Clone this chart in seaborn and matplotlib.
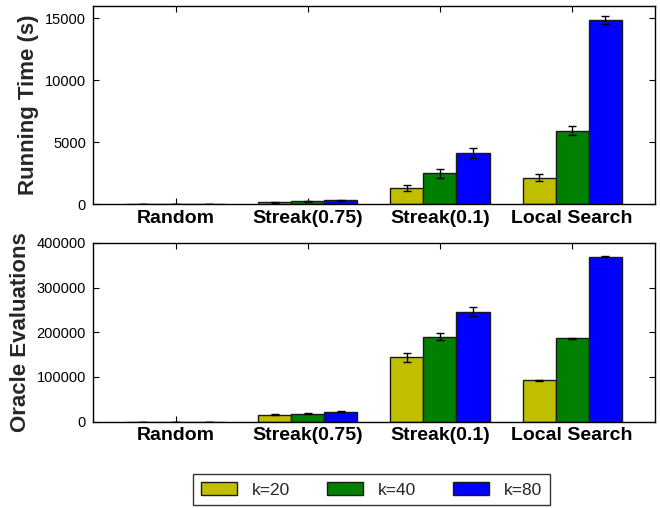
import numpy as np
import pandas as pd
import matplotlib
matplotlib.use("Agg")
import matplotlib.pyplot as plt
import seaborn as sns

algorithms = ["Random", "Streak(0.75)", "Streak(0.1)", "Local Search"]
k_labels = ["k=20", "k=40", "k=80"]

time_k20 = [2, 140, 1290, 2120]
time_k40 = [4, 240, 2500, 5950]
time_k80 = [8, 320, 4110, 14850]
time_err_k20 = [1, 20, 250, 280]
time_err_k40 = [1, 30, 350, 400]
time_err_k80 = [1, 30, 400, 320]

oracle_k20 = [20, 15000, 144000, 92300]
oracle_k40 = [40, 18000, 190000, 186000]
oracle_k80 = [80, 22500, 246000, 369000]
oracle_err_k20 = [0, 1200, 9800, 300]
oracle_err_k40 = [0, 900, 7500, 400]
oracle_err_k80 = [0, 1000, 9400, 500]

time_ticks = [0, 5000, 10000, 15000]
oracle_ticks = [0, 100000, 200000, 300000, 400000]

colors = ["#bfbf00", "#008000", "#0000ff"]

def long_df(vals):
    rows = []
    for k, series in zip(k_labels, vals):
        for a, v in zip(algorithms, series):
            rows.append({"alg": a, "k": k, "val": v})
    return pd.DataFrame(rows)

df_time = long_df([time_k20, time_k40, time_k80])
df_oracle = long_df([oracle_k20, oracle_k40, oracle_k80])

sns.set_style("ticks")
plt.rcParams["font.family"] = ["Liberation Sans", "DejaVu Sans"]

fig = plt.figure(figsize=(6.6, 5.08), dpi=100)
ax1 = fig.add_axes([0.141, 0.598, 0.851, 0.390])
ax2 = fig.add_axes([0.141, 0.170, 0.851, 0.352])

def draw(ax, df, errs, ticks, ylim, ylabel):
    sns.barplot(data=df, x="alg", y="val", hue="k", order=algorithms,
                hue_order=k_labels, palette=colors, width=0.75,
                errorbar=None, edgecolor="#1a1a1a", linewidth=1.0,
                saturation=1, ax=ax)
    for cont, e in zip(ax.containers, errs):
        for bar, ev in zip(cont, e):
            ax.errorbar(bar.get_x() + bar.get_width() / 2, bar.get_height(),
                        yerr=ev, fmt="none", ecolor="black", elinewidth=1,
                        capsize=2.8, capthick=1)
    ax.set_xlim(-0.625, 3.625)
    ax.set_ylim(*ylim)
    ax.set_yticks(ticks)
    ax.set_ylabel(ylabel, fontsize=16, fontweight="bold")
    ax.set_xlabel("")
    ax.tick_params(axis="both", direction="in", top=True, right=True,
                   length=4, width=0.8, colors="black")
    ax.tick_params(axis="y", labelsize=10.5, pad=5)
    ax.tick_params(axis="x", labelsize=14, pad=4)
    for lab in ax.get_xticklabels():
        lab.set_fontweight("bold")
    for s in ax.spines.values():
        s.set_visible(True)
        s.set_color("black")
        s.set_linewidth(1.0)
    if ax.get_legend() is not None:
        ax.get_legend().remove()

draw(ax1, df_time, [time_err_k20, time_err_k40, time_err_k80], time_ticks,
     (0, 16000), "Running Time (s)")
draw(ax2, df_oracle, [oracle_err_k20, oracle_err_k40, oracle_err_k80],
     oracle_ticks, (0, 400000), "Oracle Evaluations")

handles = [plt.Rectangle((0, 0), 1, 1, facecolor=c, edgecolor="#1a1a1a", linewidth=1)
           for c in colors]
leg = fig.legend(handles, k_labels, loc="lower center", ncol=3,
                 bbox_to_anchor=(0.563, 0.0), fontsize=12.5, frameon=True,
                 fancybox=False, edgecolor="black", handlelength=2.1,
                 handleheight=0.8, handletextpad=0.85, columnspacing=2.1,
                 borderpad=0.45, borderaxespad=0.15)
leg.get_frame().set_linewidth(1.0)

fig.savefig("out.png", dpi=100)
